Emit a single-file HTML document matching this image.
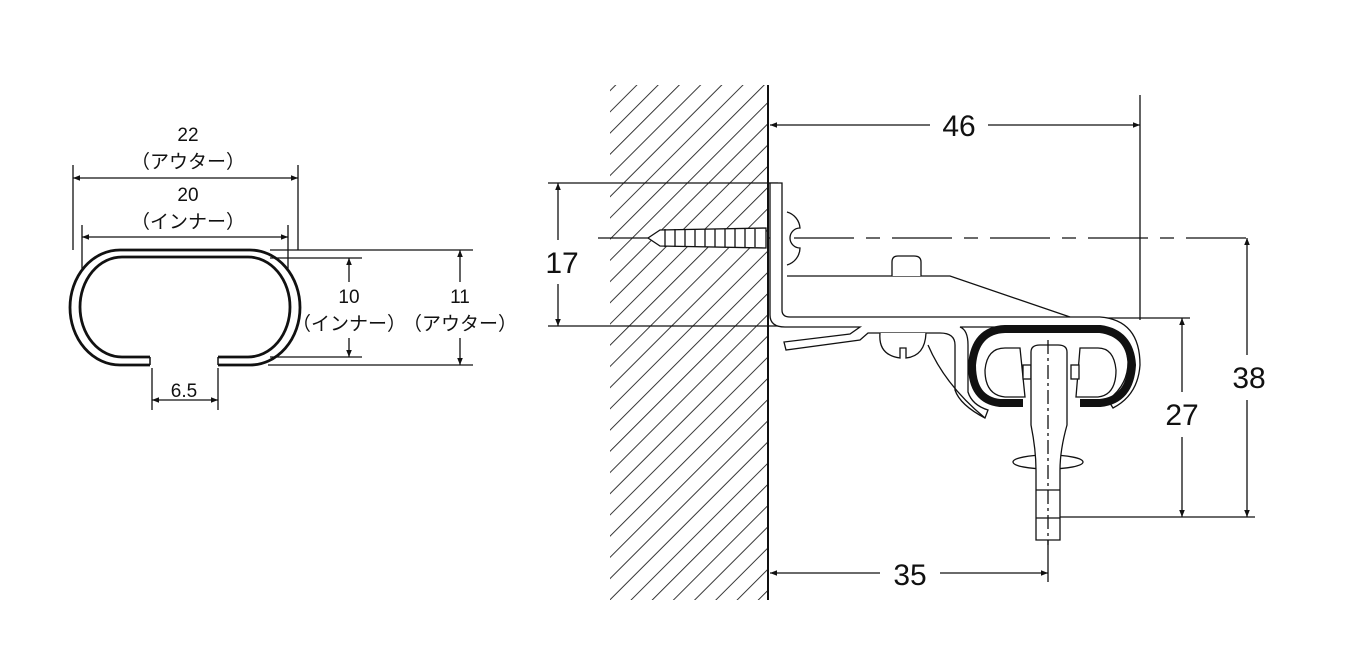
<!DOCTYPE html>
<html><head><meta charset="utf-8"><style>
html,body{margin:0;padding:0;background:#fff;}
svg{display:block}
text{font-family:"Liberation Sans","Noto Sans CJK JP",sans-serif;fill:#111;text-anchor:middle}
</style></head><body>
<svg width="1367" height="645" viewBox="0 0 1367 645" xmlns="http://www.w3.org/2000/svg">
<defs>
<marker id="a" viewBox="0 0 10 10" refX="10" refY="5" markerWidth="9" markerHeight="7" orient="auto-start-reverse" markerUnits="userSpaceOnUse"><path d="M0,1 L10,5 L0,9 Z" fill="#111"/></marker>
<pattern id="h" width="15" height="15" patternUnits="userSpaceOnUse" patternTransform="rotate(45)">
<line x1="0" y1="0" x2="0" y2="15" stroke="#222" stroke-width="1.8"/></pattern>
<clipPath id="wc"><rect x="610" y="85" width="158" height="515"/></clipPath>
</defs>
<g stroke="#111" fill="none" stroke-width="1.3">
<path d="M150,365 L120,365 A50,57.5 0 0 1 120,250 L250,250 A50,57.5 0 0 1 250,365 L218,365" stroke-width="2.8"/>
<path d="M150,357 L122,357 A42,50 0 0 1 122,257 L248,257 A42,50 0 0 1 248,357 L218,357" stroke-width="2.8"/>
<line x1="150" y1="357" x2="150" y2="365" stroke-width="1.5"/>
<line x1="218" y1="357" x2="218" y2="365" stroke-width="1.5"/>
<line x1="73" y1="165" x2="73" y2="250"/><line x1="298" y1="165" x2="298" y2="250"/>
<line x1="82" y1="225" x2="82" y2="270"/><line x1="288" y1="225" x2="288" y2="270"/>
<line x1="73" y1="178" x2="298" y2="178" marker-start="url(#a)" marker-end="url(#a)"/>
<line x1="82" y1="237" x2="288" y2="237" marker-start="url(#a)" marker-end="url(#a)"/>
<line x1="270" y1="250" x2="473" y2="250"/><line x1="270" y1="258" x2="362" y2="258"/>
<line x1="270" y1="357" x2="362" y2="357"/><line x1="268" y1="365" x2="473" y2="365"/>
<line x1="349" y1="258" x2="349" y2="282" marker-start="url(#a)"/><line x1="349" y1="338" x2="349" y2="357" marker-end="url(#a)"/>
<line x1="460" y1="250" x2="460" y2="282" marker-start="url(#a)"/><line x1="460" y1="338" x2="460" y2="365" marker-end="url(#a)"/>
<line x1="152" y1="368" x2="152" y2="410"/><line x1="218" y1="368" x2="218" y2="410"/>
<line x1="152" y1="400" x2="218" y2="400" marker-start="url(#a)" marker-end="url(#a)"/>
</g>
<g font-size="19">
<text x="188" y="141">22</text><text x="188" y="168">（アウター）</text>
<text x="188" y="201">20</text><text x="188" y="228">（インナー）</text>
<text x="349" y="303">10</text><text x="349" y="330">（インナー）</text>
<text x="460" y="303">11</text><text x="460" y="330">（アウター）</text>
<text x="184" y="397">6.5</text>
</g>
<rect x="610" y="85" width="158" height="515" fill="url(#h)" clip-path="url(#wc)"/>
<line x1="768" y1="85" x2="768" y2="600" stroke="#111" stroke-width="2"/>
<g stroke="#111" fill="none" stroke-width="1.3">
<line x1="1140" y1="95" x2="1140" y2="320"/>
<line x1="770" y1="125" x2="930" y2="125" marker-start="url(#a)"/><line x1="988" y1="125" x2="1140" y2="125" marker-end="url(#a)"/>
<line x1="548" y1="183" x2="778" y2="183"/><line x1="548" y1="326" x2="782" y2="326"/>
<line x1="558" y1="183" x2="558" y2="240" marker-start="url(#a)"/><line x1="558" y1="284" x2="558" y2="326" marker-end="url(#a)"/>
<line x1="598" y1="238" x2="1250" y2="238" stroke-dasharray="60,12,14,12"/>
<line x1="1247" y1="238" x2="1247" y2="355" marker-start="url(#a)"/><line x1="1247" y1="400" x2="1247" y2="517" marker-end="url(#a)"/>
<line x1="1050" y1="517" x2="1255" y2="517"/>
<line x1="1090" y1="318" x2="1190" y2="318"/>
<line x1="1182" y1="318" x2="1182" y2="392" marker-start="url(#a)"/><line x1="1182" y1="437" x2="1182" y2="517" marker-end="url(#a)"/>
<line x1="1048" y1="520" x2="1048" y2="582"/>
<line x1="770" y1="573" x2="880" y2="573" marker-start="url(#a)"/><line x1="940" y1="573" x2="1048" y2="573" marker-end="url(#a)"/>
</g>
<g font-size="30">
<text x="959" y="136">46</text><text x="562" y="273">17</text>
<text x="1249" y="388">38</text><text x="1182" y="425">27</text><text x="910" y="585">35</text>
</g>
<g stroke="#111" fill="#fff" stroke-width="1.3">
<path d="M648,238 L660,230 L766,228 L766,248 L660,246 Z"/>
<path d="M665,229 L665,247 M675,229 L675,247 M685,229 L685,247 M695,229 L695,247 M705,229 L705,247 M715,229 L715,247 M725,229 L725,247 M735,229 L735,247 M745,229 L745,247 M755,229 L755,247" fill="none"/>
<path d="M770,183 L782,183 L782,310 Q782,317 790,317 L1100,317 Q1140,320 1140,365 Q1138,395 1113,408 L1108,400 Q1128,385 1128,362 Q1125,330 1098,327 L960,327 Q968,330 968,345 L968,392 Q972,405 988,410 L985,418 Q960,405 955,390 L955,345 Q955,333 940,333 L868,333 L860,340 L786,350 L784,342 L850,334 L860,327 L785,327 Q770,327 770,315 Z"/>
<path d="M787,276 L950,276 L1070,317" fill="none"/>
<path d="M787,212 A18,18 0 0 1 800,228 A8,8 0 0 0 800,248 A18,18 0 0 1 787,265"/>
<path d="M892,276 L892,262 Q892,256 898,256 L914,256 Q921,256 921,262 L921,276"/>
<path d="M880,333 Q878,355 900,358 L900,348 L906,348 L906,358 Q925,356 926,333"/>
<path d="M928,345 Q945,385 985,418" fill="none"/>
<path d="M1023,403 L1000,403 Q972,400 972,365 Q975,330 1005,329 L1100,329 Q1130,333 1132,365 Q1130,400 1100,403 L1080,403" fill="none" stroke-width="8"/>
<path d="M1025,397 L1005,397 Q985,395 985,370 Q987,348 1005,348 L1020,348 Z"/>
<path d="M1076,397 L1098,397 Q1116,395 1116,370 Q1114,348 1098,348 L1080,348 Z"/>
<rect x="1023" y="365" width="8" height="14"/><rect x="1071" y="365" width="8" height="14"/>
<ellipse cx="1048" cy="462" rx="35" ry="7"/>
<path d="M1031,352 Q1031,345 1040,345 L1058,345 Q1067,345 1067,352 L1067,425 Q1060,450 1060,470 L1060,540 L1036,540 L1036,470 Q1036,450 1031,425 Z"/>
<line x1="1036" y1="490" x2="1060" y2="490"/><line x1="1036" y1="518" x2="1060" y2="518"/>
<line x1="1048" y1="340" x2="1048" y2="545" stroke-dasharray="14,4,3,4" fill="none"/>
</g>
</svg>
</body></html>
